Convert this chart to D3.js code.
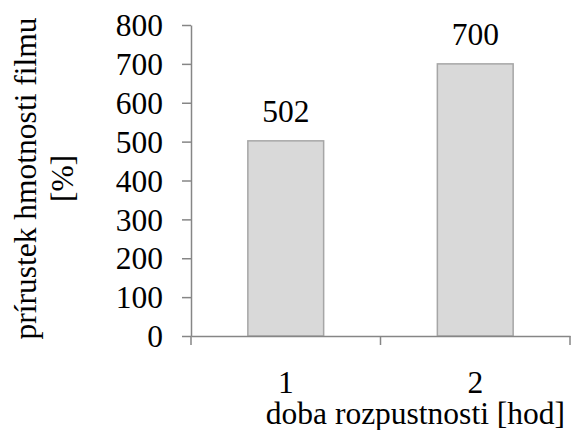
<!DOCTYPE html>
<html><head><meta charset="utf-8">
<script src="https://cdn.jsdelivr.net/npm/d3@7"></script>
<style>body{margin:0;background:#fff}svg{display:block}</style>
</head><body><svg id="c" width="572" height="430" font-family="Liberation Serif"></svg>
<script>
const categories = ["1", "2"];
const values = [502, 700];
const yTicks = [0, 100, 200, 300, 400, 500, 600, 700, 800];
const xTitle = "doba rozpustnosti [hod]";
const yTitle = ["prírustek hmotnosti filmu", "[%]"];

(function(){
const svg = d3.select("#c");
const fs = 31.5;
const ff = "Liberation Serif";
const mLeft = 191, mRight = 570, mTop = 25, mBottom = 336;
const x = d3.scaleBand().domain(categories).range([mLeft, mRight]).paddingInner(0.6).paddingOuter(0.3);
const xb = d3.scaleBand().domain(categories).range([mLeft, mRight]);
const y = d3.scaleLinear().domain([0, 800]).range([mBottom, mTop]);
const axisCol = "#868686";

svg.selectAll("rect.bar").data(values).join("rect").attr("class","bar")
  .attr("x", (d,i) => x(categories[i])).attr("width", x.bandwidth())
  .attr("y", d => y(d)).attr("height", d => y(0) - y(d))
  .attr("fill", "#d9d9d9").attr("stroke", "#a6a6a6").attr("stroke-width", 1.5);

const ya = svg.append("g").attr("transform", `translate(${mLeft},0)`)
  .call(d3.axisLeft(y).tickValues(yTicks).tickSize(9).tickSizeOuter(0).tickPadding(19));
ya.attr("font-family", ff).attr("font-size", fs);
ya.selectAll("path,line").attr("stroke", axisCol).attr("stroke-width", 1.5);
ya.selectAll("text").attr("fill","#000").attr("dy","0.34em");

const xa = svg.append("g").attr("transform", `translate(0,${mBottom})`)
  .call(d3.axisBottom(xb).tickSize(0).tickSizeOuter(0).tickPadding(34.6));
xa.attr("font-family", ff).attr("font-size", fs);
xa.selectAll("path").attr("stroke", axisCol).attr("stroke-width", 1.5);
xa.selectAll("text").attr("fill","#000");
const bounds = [mLeft].concat(categories.map(c => xb(c) + xb.bandwidth()));
svg.selectAll("line.xt").data(bounds).join("line").attr("class","xt")
  .attr("x1", d => d).attr("x2", d => d).attr("y1", mBottom).attr("y2", mBottom + 9)
  .attr("stroke", axisCol).attr("stroke-width", 1.5);

svg.selectAll("text.val").data(values).join("text").attr("class","val")
  .attr("x", (d,i) => x(categories[i]) + x.bandwidth()/2).attr("y", d => y(d) - 19)
  .attr("text-anchor","middle").attr("font-size", fs).attr("font-family", ff).text(d => d);

svg.append("text").attr("x", 565).attr("y", 424).attr("text-anchor","end")
  .attr("font-size", fs).attr("font-family", ff).text(xTitle);

const yt = svg.append("text").attr("transform","translate(0,178.5) rotate(-90)")
  .attr("text-anchor","middle").attr("font-size", fs).attr("font-family", ff);
yt.selectAll("tspan").data(yTitle).join("tspan").attr("x",0).attr("y",(d,i)=> i===0 ? 36 : 73).text(d=>d);
})();
</script></body></html>
